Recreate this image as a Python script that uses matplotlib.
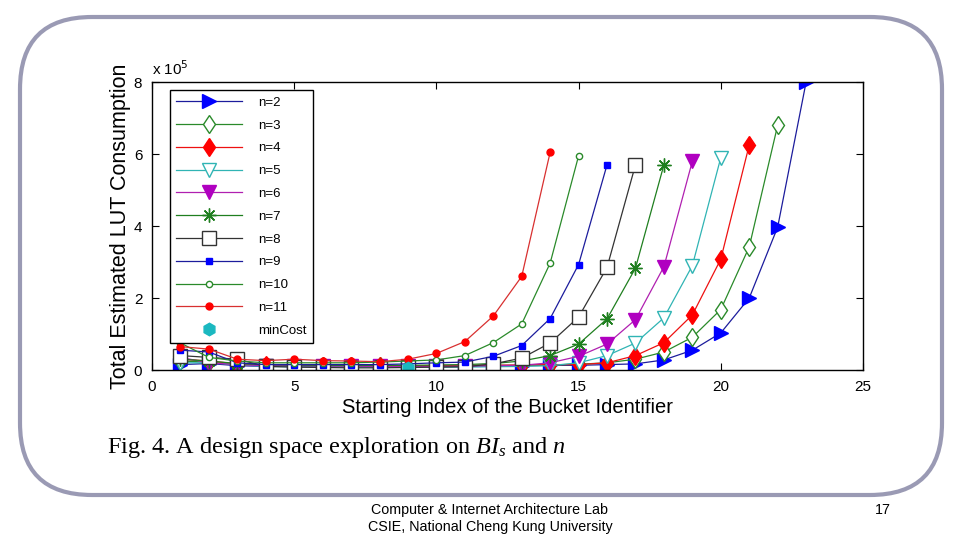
import matplotlib.pyplot as plt
from matplotlib.patches import FancyBboxPatch

# LUT consumption, in units of 1e5, for each n; x runs from 1 to 25 - n
n2 = [0.15, 0.18, 0.12, 0.1, 0.1, 0.1, 0.1, 0.1, 0.1, 0.1, 0.1, 0.12, 0.12, 0.13, 0.13, 0.15, 0.17, 0.28, 0.55, 1.03, 2.0, 3.97, 8.0]
n3 = [0.25, 0.22, 0.15, 0.12, 0.12, 0.11, 0.11, 0.11, 0.11, 0.12, 0.12, 0.13, 0.13, 0.14, 0.16, 0.2, 0.3, 0.5, 0.91, 1.68, 3.42, 6.8]
n4 = [0.3, 0.25, 0.17, 0.14, 0.13, 0.12, 0.12, 0.12, 0.12, 0.12, 0.13, 0.13, 0.14, 0.15, 0.15, 0.2, 0.4, 0.76, 1.53, 3.08, 6.25]
n5 = [0.2, 0.2, 0.15, 0.1, 0.09, 0.09, 0.08, 0.08, 0.08, 0.08, 0.08, 0.09, 0.1, 0.12, 0.2, 0.4, 0.75, 1.45, 2.9, 5.9]
n6 = [0.35, 0.2, 0.15, 0.12, 0.12, 0.11, 0.11, 0.1, 0.1, 0.1, 0.11, 0.12, 0.13, 0.2, 0.38, 0.72, 1.4, 2.87, 5.8]
n7 = [0.3, 0.25, 0.18, 0.15, 0.14, 0.13, 0.13, 0.13, 0.13, 0.14, 0.15, 0.18, 0.25, 0.4, 0.72, 1.42, 2.83, 5.7]
n8 = [0.4, 0.35, 0.3, 0.1, 0.08, 0.07, 0.06, 0.06, 0.07, 0.08, 0.09, 0.17, 0.33, 0.75, 1.47, 2.85, 5.7]
n9 = [0.55, 0.5, 0.2, 0.15, 0.15, 0.15, 0.15, 0.15, 0.17, 0.2, 0.22, 0.38, 0.68, 1.43, 2.93, 5.7]
n10 = [0.75, 0.35, 0.25, 0.2, 0.2, 0.2, 0.2, 0.22, 0.25, 0.28, 0.4, 0.76, 1.28, 2.97, 5.95]
n11 = [0.65, 0.58, 0.3, 0.26, 0.3, 0.26, 0.25, 0.23, 0.3, 0.46, 0.79, 1.5, 2.6, 6.05]
min_cost_x = [9]
min_cost_y = [0.06]

series = [n2, n3, n4, n5, n6, n7, n8, n9, n10, n11]
labels = ["n=%d" % k for k in range(2, 12)]

# (line colour, marker, size, face colour, edge colour)
styles = [
    ("#1c1c9c", ">", 10, "#0000ff", "#0000ff"),
    ("#2a8a2a", "d", 9.5, "white", "#2a8a2a"),
    ("#ee1111", "d", 9.5, "#ff0000", "#ff0000"),
    ("#30b4b4", "v", 10, "white", "#30b4b4"),
    ("#b020b0", "v", 10, "#b000c0", "#b000c0"),
    ("#1f7f1f", (8, 2, 0), 10, "#1f7f1f", "#1f7f1f"),
    ("#333333", "s", 10, "white", "#333333"),
    ("#1c1c9c", "s", 5, "#0000ff", "#0000ff"),
    ("#2a8a2a", "o", 4.5, "white", "#2a8a2a"),
    ("#d83030", "o", 5, "#ff0000", "#ff0000"),
]

plt.rcParams["font.family"] = ["Liberation Sans", "DejaVu Sans"]
plt.rcParams["mathtext.fontset"] = "custom"
plt.rcParams["mathtext.it"] = "Liberation Serif:italic"
plt.rcParams["mathtext.rm"] = "Liberation Serif"

fig = plt.figure(figsize=(9.6, 5.4), dpi=100)
fig.patch.set_facecolor("white")

border = FancyBboxPatch((20 / 960, 1 - 495 / 540), 922 / 960, 478 / 540,
                        boxstyle="round,pad=0,rounding_size=0.075",
                        transform=fig.transFigure, facecolor="none",
                        edgecolor="#9a9ab4", linewidth=3, mutation_aspect=960 / 540)
fig.patches.append(border)

ax = fig.add_axes([152 / 960, 1 - 370 / 540, 711 / 960, 288 / 540])

for vals, lab, (lc, mk, ms, fc, ec) in zip(series, labels, styles):
    xs = list(range(1, len(vals) + 1))
    ax.plot(xs, vals, color=lc, lw=0.9, marker=mk, markersize=ms,
            markerfacecolor=fc, markeredgecolor=ec, markeredgewidth=1, label=lab)

ax.plot(min_cost_x, min_cost_y, linestyle="none", marker="h", markersize=9,
        color="#1ab8c0", label="minCost")

ax.set_xlim(0, 25)
ax.set_ylim(0, 8)
ax.set_xticks([0, 5, 10, 15, 20, 25])
ax.set_yticks([0, 2, 4, 6, 8])
ax.tick_params(direction="in", top=True, right=True, length=5, labelsize=11, pad=7)
for s in ax.spines.values():
    s.set_linewidth(1)

ax.text(0, 1.015, "x 10$\\mathsf{^5}$", transform=ax.transAxes, fontsize=11, ha="left", va="bottom")
ax.set_xlabel("Starting Index of the Bucket Identifier", fontsize=14.5, labelpad=3)
ax.set_ylabel("Total Estimated LUT Consumption", fontsize=15.5, labelpad=2)

leg = ax.legend(loc="upper left", bbox_to_anchor=(0.025, 0.972), fontsize=9.5,
                handlelength=5.0, handletextpad=1.2, labelspacing=0.8, borderpad=0.5,
                borderaxespad=0, fancybox=False, edgecolor="black", framealpha=1)
leg.get_frame().set_linewidth(1)

fig.text(107 / 960, 1 - 447 / 540, r"Fig. 4. A design space exploration on $BI_s$ and $n$",
         fontsize=17.5, family="Liberation Serif", va="center", ha="left")

fig.text(490 / 960, 1 - 510 / 540, "Computer & Internet Architecture Lab",
         fontsize=10.3, ha="center", va="center")
fig.text(490 / 960, 1 - 527 / 540, "CSIE, National Cheng Kung University",
         fontsize=10.3, ha="center", va="center")
fig.text(883 / 960, 1 - 510 / 540, "17", fontsize=10.3, ha="center", va="center")

fig.savefig("out.png", dpi=100)
